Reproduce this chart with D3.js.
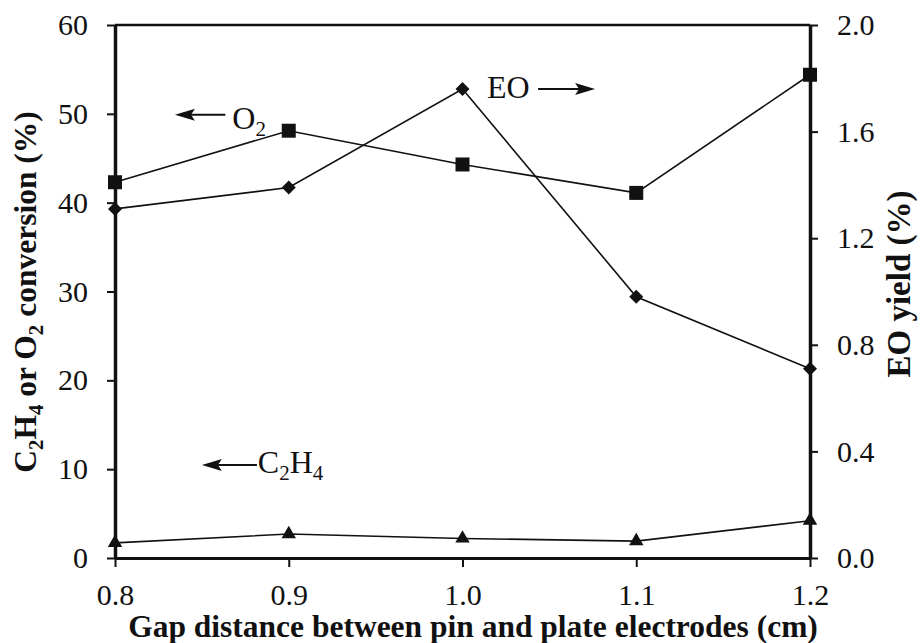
<!DOCTYPE html>
<html>
<head>
<meta charset="utf-8">
<script src="https://cdn.jsdelivr.net/npm/d3@7"></script>
<style>
  body { margin: 0; background: #fff; }
  svg text { font-family: "Liberation Serif", "Times New Roman", serif; fill: #111; }
</style>
</head>
<body>
<svg id="chart" width="922" height="643"></svg>
<script>
// Gap distance between pin and plate electrodes (cm)
const gaps = [0.8, 0.9, 1.0, 1.1, 1.2];
// O2 conversion (%) – left axis
const o2Conversion = [42.3, 48.1, 44.3, 41.1, 54.4];
// C2H4 conversion (%) – left axis
const c2h4Conversion = [1.7, 2.7, 2.2, 1.9, 4.2];
// EO yield (%) – right axis
const eoYield = [1.31, 1.39, 1.76, 0.98, 0.71];

const xTicks = [0.8, 0.9, 1.0, 1.1, 1.2];
const leftTicks = [0, 10, 20, 30, 40, 50, 60];
const rightTicks = [0, 0.4, 0.8, 1.2, 1.6, 2.0];

const svg = d3.select("#chart");
const plot = { left: 115, right: 810, top: 25, bottom: 558 };

const x = d3.scaleLinear().domain([0.8, 1.2]).range([plot.left, plot.right]);
const yL = d3.scaleLinear().domain([0, 60]).range([plot.bottom, plot.top]);
const yR = d3.scaleLinear().domain([0, 2]).range([plot.bottom, plot.top]);

const ink = "#111";
const serif = "'Liberation Serif', 'Times New Roman', serif";

// ---- axes ----
function styleAxis(g, domainWidth) {
  g.select(".domain").attr("stroke", ink).attr("stroke-width", domainWidth);
  g.selectAll(".tick line").attr("stroke", ink).attr("stroke-width", 2);
  g.selectAll(".tick text").attr("fill", "#222").style("font-size", "30px")
    .style("font-family", serif);
}

svg.append("g")
  .attr("transform", `translate(0,${plot.bottom})`)
  .call(d3.axisBottom(x).tickValues(xTicks).tickFormat(d3.format(".1f"))
    .tickSize(9).tickSizeOuter(0).tickPadding(17))
  .call(g => styleAxis(g, 3));

svg.append("g")
  .attr("transform", `translate(${plot.left},0)`)
  .call(d3.axisLeft(yL).tickValues(leftTicks).tickFormat(d3.format("d"))
    .tickSize(8).tickSizeOuter(0).tickPadding(19))
  .call(g => styleAxis(g, 3.5));

svg.append("g")
  .attr("transform", `translate(${plot.right},0)`)
  .call(d3.axisRight(yR).tickValues(rightTicks).tickFormat(d3.format(".1f"))
    .tickSize(8).tickSizeOuter(0).tickPadding(19))
  .call(g => styleAxis(g, 3.5));

// top frame line
svg.append("line")
  .attr("x1", plot.left).attr("x2", plot.right)
  .attr("y1", plot.top).attr("y2", plot.top)
  .attr("stroke", ink).attr("stroke-width", 2.5);

// ---- axis titles ----
svg.append("text")
  .attr("x", 473).attr("y", 637)
  .attr("text-anchor", "middle")
  .style("font-size", "31.5px").style("font-weight", "bold")
  .text("Gap distance between pin and plate electrodes (cm)");

const leftTitle = svg.append("text")
  .attr("transform", "translate(36,292) rotate(-90)")
  .attr("text-anchor", "middle")
  .style("font-size", "31.5px").style("font-weight", "bold");
leftTitle.append("tspan").text("C");
leftTitle.append("tspan").attr("dy", 7).style("font-size", "21px").text("2");
leftTitle.append("tspan").attr("dy", -7).text("H");
leftTitle.append("tspan").attr("dy", 7).style("font-size", "21px").text("4");
leftTitle.append("tspan").attr("dy", -7).text(" or O");
leftTitle.append("tspan").attr("dy", 7).style("font-size", "21px").text("2");
leftTitle.append("tspan").attr("dy", -7).text(" conversion (%)");

svg.append("text")
  .attr("transform", "translate(910,284) rotate(-90)")
  .attr("text-anchor", "middle")
  .style("font-size", "33px").style("font-weight", "bold")
  .text("EO yield (%)");

// ---- series ----
const leftLine = d3.line().x((d, i) => x(gaps[i])).y(d => yL(d));
const rightLine = d3.line().x((d, i) => x(gaps[i])).y(d => yR(d));

function drawSeries(values, line, yScale, symbolPath) {
  svg.append("path").datum(values)
    .attr("d", line)
    .attr("fill", "none").attr("stroke", ink).attr("stroke-width", 1.6);
  svg.append("g").selectAll("path").data(values).join("path")
    .attr("transform", (d, i) => `translate(${x(gaps[i])},${yScale(d)})`)
    .attr("d", symbolPath)
    .attr("fill", ink);
}

const squarePath = d3.symbol(d3.symbolSquare, 196)();
const diamondPath = "M0,-7L7,0L0,7L-7,0Z";
const trianglePath = d3.symbol(d3.symbolTriangle, 90)();

drawSeries(o2Conversion, leftLine, yL, squarePath);
drawSeries(eoYield, rightLine, yR, diamondPath);
drawSeries(c2h4Conversion, leftLine, yL, trianglePath);

// ---- in-plot labels with arrows ----
function arrow(x1, x2, y) {
  // arrow pointing from x1 toward x2
  const dir = Math.sign(x2 - x1);
  svg.append("line")
    .attr("x1", x1).attr("x2", x2 - dir * 14).attr("y1", y).attr("y2", y)
    .attr("stroke", ink).attr("stroke-width", 2);
  svg.append("path")
    .attr("d", `M${x2},${y}L${x2 - dir * 20},${y - 6}L${x2 - dir * 16},${y}L${x2 - dir * 20},${y + 6}Z`)
    .attr("fill", ink);
}

// O2 (left axis)
arrow(x(0.8635), x(0.8345), yL(49.9));
const o2Label = svg.append("text").attr("x", x(0.8675)).attr("y", yL(48.3))
  .style("font-size", "32px");
o2Label.append("tspan").text("O");
o2Label.append("tspan").attr("dy", 7).style("font-size", "21px").text("2");

// EO (right axis)
svg.append("text").attr("x", x(1.0141)).attr("y", yL(51.8))
  .style("font-size", "32px").text("EO");
arrow(x(1.0435), x(1.0763), yL(52.8));

// C2H4 (left axis)
arrow(x(0.8817), x(0.850), yL(10.47));
const c2h4Label = svg.append("text").attr("x", x(0.8822)).attr("y", yL(9.6))
  .style("font-size", "32px");
c2h4Label.append("tspan").text("C");
c2h4Label.append("tspan").attr("dy", 7).style("font-size", "21px").text("2");
c2h4Label.append("tspan").attr("dy", -7).text("H");
c2h4Label.append("tspan").attr("dy", 7).style("font-size", "21px").text("4");
</script>
</body>
</html>
